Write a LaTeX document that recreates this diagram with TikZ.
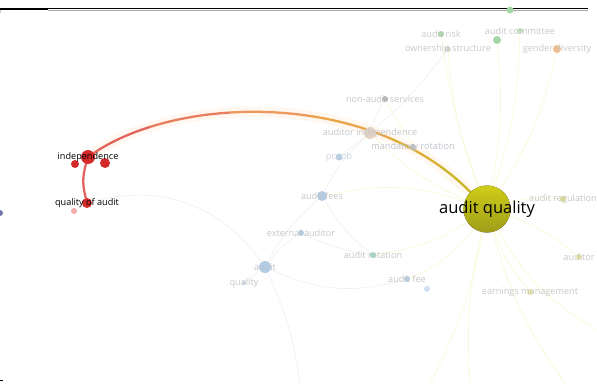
\documentclass[tikz,border=0pt]{standalone}
\usepackage{fontspec}
\setsansfont{Open Sans}
\usetikzlibrary{backgrounds}
\definecolor{vred}{HTML}{D42A2A}
\definecolor{vpink}{HTML}{F2AAAA}
\definecolor{volive}{HTML}{C3C01E}
\definecolor{fgreen}{HTML}{A6D6A6}
\definecolor{forange}{HTML}{F5BE88}
\definecolor{fblue}{HTML}{B3CCE6}
\definecolor{ftan}{HTML}{E2D2C2}
\definecolor{fteal}{HTML}{9CD6CA}
\definecolor{cA}{HTML}{E2645C}
\definecolor{cB}{HTML}{E97E5E}
\definecolor{cC}{HTML}{EE985C}
\definecolor{cD}{HTML}{E8A548}
\definecolor{cE}{HTML}{DAAF34}
\definecolor{cF}{HTML}{C8B624}
\tikzset{
  n/.style={circle,fill,inner sep=0pt},
  lbl/.style={font=\sffamily\fontsize{5.2}{6}\selectfont,inner sep=0pt},
  fl/.style={lbl,text=black!22},
  big/.style={font=\sffamily\fontsize{9.4}{11}\selectfont,inner sep=0pt},
  fe/.style={draw=black!6,line width=0.4pt},
  ye/.style={draw=yellow!70!olive!14,line width=0.4pt},
  rlink/.style={line width=1.3pt,line cap=round},
}
\begin{document}
\begin{tikzpicture}[x=0.02cm,y=-0.02cm]
\useasboundingbox (0,0) rectangle (597,383);
% frame marks
\draw[line width=1.1pt] (0,8.6) -- (48,8.6);
\draw[line width=0.6pt] (48,8.4) -- (588,8.4);
\draw[black!35,line width=0.6pt] (48,10.2) -- (588,10.2);
\draw[black!20,line width=0.6pt] (0.3,10) -- (0.3,12.5);
\draw[line width=0.8pt] (0,380.6) -- (3,380.6);

% faint nodes
\node[n,fill=fgreen,minimum size=1.4mm] (top) at (510,10){};
\node[n,fill=fgreen,minimum size=1.2mm,label={[fl,text=fgreen!40!black!30]center:audit risk}] (ar) at (441,34){};
\node[n,fill=fgreen,minimum size=1.6mm] (ac2) at (497,40){};
\node[n,fill=fgreen!70,minimum size=1.2mm,label={[fl]center:audit committee}] (ac) at (520,31){};
\node[n,fill=fgreen!80!black!40,minimum size=1.2mm,label={[fl]center:ownership structure}] (os) at (448,49){};
\node[n,fill=forange,minimum size=1.6mm,label={[fl]center:gender diversity}] (gd) at (557,49){};
\node[n,fill=black!30,minimum size=1.2mm,label={[fl]center:non-audit services}] (nas) at (385,99){};
\node[n,fill=ftan,minimum size=2.4mm,label={[fl]center:auditor independence}] (ai) at (370,133){};
\node[n,fill=black!25,minimum size=1.2mm,label={[fl,text=fblue!60!black!45]center:mandatory rotation}] (mr) at (413,147){};
\node[n,fill=fblue,minimum size=1.4mm,label={[fl,text=fblue!70!black!40]center:pcaob}] (pc) at (339,157){};
\node[n,fill=fblue,minimum size=2mm,label={[fl]center:audit fees}] (af) at (322,196){};
\node[n,fill=fblue,minimum size=1.2mm,label={[fl]center:external auditor}] (ea) at (301,233){};
\node[n,fill=fblue,minimum size=2.4mm,label={[fl,text=fblue!60!black!45]center:audit}] (au) at (265,267){};
\node[n,fill=fblue!70,minimum size=0.8mm,label={[fl]center:quality}] (qu) at (244,283){};
\node[n,fill=fteal,minimum size=1.2mm,label={[fl]center:audit rotation}] (ro) at (373,255){};
\node[n,fill=fblue,minimum size=1.2mm,label={[fl]center:audit fee}] (fee) at (407,279){};
\node[n,fill=fblue!60,minimum size=1.2mm] (fee2) at (427,289){};
\node[n,fill=volive!40,minimum size=1.2mm,label={[fl]center:earnings management}] (em) at (530,292){};
\node[n,fill=volive!50,minimum size=1.2mm,label={[fl]center:audit regulation}] (reg) at (563,199){};
\node[n,fill=volive!40,minimum size=1.2mm,label={[fl]center:auditor}] (aud) at (579,257){};
\node[n,fill=blue!40!black!55,minimum size=1.2mm] (lft) at (0,213){};

% red cluster
\node[n,fill=vred,minimum size=1.6mm] (ind2) at (75,164){};
\node[n,fill=vred,minimum size=2mm] (ind3) at (105,163){};
\node[n,fill=vpink,minimum size=1.2mm] (qoa2) at (74,211){};
\node[n,fill=vred,minimum size=2.8mm,label={[lbl]center:independence}] (indep) at (88,157){};
\node[n,fill=vred,minimum size=2mm,label={[lbl]center:quality of audit}] (qoa) at (87,203){};

% main node
\node[n,top color=volive!80!yellow,bottom color=volive!82!black,minimum size=9.4mm,label={[big]center:audit quality}] (aq) at (487,209){};

\coordinate (c1) at (180,95);
\coordinate (c2) at (370,90);
\coordinate (b1) at (300,383);
\coordinate (b2) at (430,383);
\coordinate (b3) at (470,383);
\coordinate (b4) at (565,383);
\coordinate (b5) at (597,330);

\begin{scope}[on background layer]
% faint links
\draw[ye] (aq) to[bend left=10] (ai); \draw[ye] (aq) to[bend left=12] (nas);
\draw[ye] (aq) to[bend left=8] (os); \draw[ye] (aq) to[bend left=6] (ar);
\draw[ye] (aq) to[bend right=8] (ac2); \draw[ye] (aq) to[bend right=8] (ac);
\draw[ye] (aq) to[bend right=10] (gd); \draw[ye] (aq) to[bend left=10] (reg);
\draw[ye] (aq) to[bend right=10] (em); \draw[ye] (aq) to[bend left=10] (aud);
\draw[ye] (aq) to[bend left=15] (fee); \draw[ye] (aq) to[bend left=12] (ro);
\draw[ye] (aq) to[bend right=15] (af); \draw[ye] (aq) to[bend right=10] (mr);
\draw[ye] (aq) to[bend left=8] (b2); \draw[ye] (aq) to[bend right=8] (b3);
\draw[ye] (aq) to[bend right=10] (b4); \draw[ye] (aq) to[bend right=15] (b5);
\draw[fe] (au) to[bend left=10] (ea); \draw[fe] (au) to[bend left=10] (af);
\draw[fe] (au) -- (qu); \draw[fe] (au) to[bend right=20] (fee);
\draw[fe] (ea) to[bend right=8] (ro); \draw[fe] (af) to[bend left=10] (ai);
\draw[fe] (pc) -- (ai); \draw[fe] (qoa) to[bend left=35] (au);
\draw[fe] (au) to[bend left=8] (b1); \draw[fe] (af) to[bend right=10] (ro);
\draw[fe] (nas) to[bend right=6] (ai); \draw[fe] (os) to[bend left=6] (ai);
% glow
\draw[orange!6,line width=6pt] (indep) .. controls (c1) and (c2) .. (aq);
% strong links
\draw[rlink,cA] (indep) to[bend right=15] (qoa);
\begin{scope}\clip (0,0) rectangle (150,383); \draw[rlink,cA] (indep) .. controls (c1) and (c2) .. (aq); \end{scope}
\begin{scope}\clip (150,0) rectangle (230,383); \draw[rlink,cB] (indep) .. controls (c1) and (c2) .. (aq); \end{scope}
\begin{scope}\clip (230,0) rectangle (310,383); \draw[rlink,cC] (indep) .. controls (c1) and (c2) .. (aq); \end{scope}
\begin{scope}\clip (310,0) rectangle (390,383); \draw[rlink,cD] (indep) .. controls (c1) and (c2) .. (aq); \end{scope}
\begin{scope}\clip (390,0) rectangle (440,383); \draw[rlink,cE] (indep) .. controls (c1) and (c2) .. (aq); \end{scope}
\begin{scope}\clip (440,0) rectangle (597,383); \draw[rlink,cF] (indep) .. controls (c1) and (c2) .. (aq); \end{scope}
\end{scope}
\end{tikzpicture}
\end{document}
